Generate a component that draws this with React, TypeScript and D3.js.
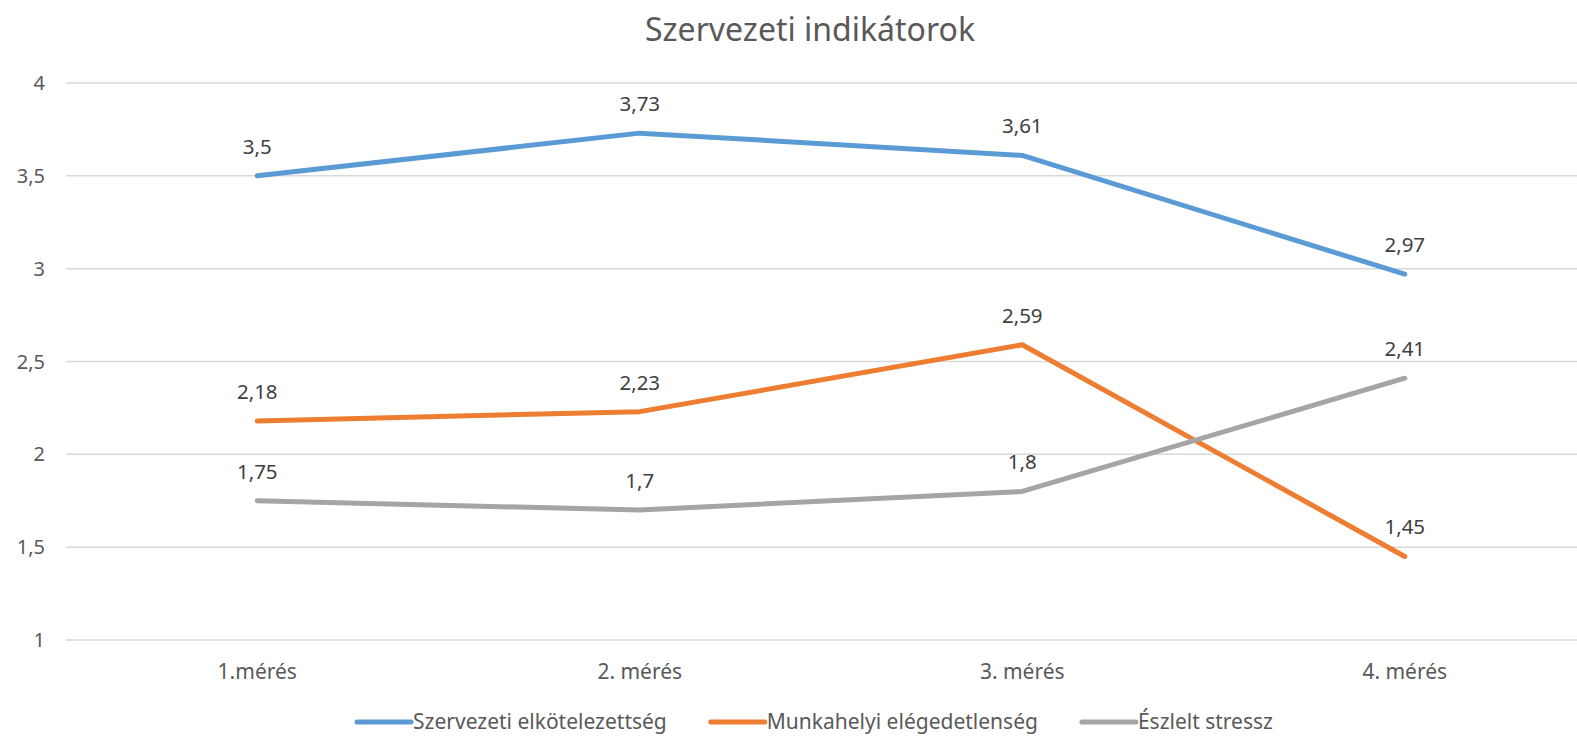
import { useEffect, useRef } from 'react';
import * as d3 from 'd3';

const categories = ['1.mérés', '2. mérés', '3. mérés', '4. mérés'];
const seriesNames = ['Szervezeti elkötelezettség', 'Munkahelyi elégedetlenség', 'Észlelt stressz'];
const commitment = [3.5, 3.73, 3.61, 2.97];
const dissatisfaction = [2.18, 2.23, 2.59, 1.45];
const stress = [1.75, 1.7, 1.8, 2.41];
const yTicks = [1, 1.5, 2, 2.5, 3, 3.5, 4];
const colors = ['#5B9BD5', '#ED7D31', '#A5A5A5'];

const W = 1577;
const H = 736;
const font = "'Noto Sans', 'Open Sans', sans-serif";
const fmt = (v: number) => String(v).replace('.', ',');

const App = () => {
  const svgRef = useRef<SVGSVGElement>(null);

  useEffect(() => {
    const svg = d3.select(svgRef.current);
    svg.selectAll('*').remove();

    const plot = { left: 66, right: 1596, top: 83, bottom: 640 };

    const x = d3.scaleBand().domain(categories).range([plot.left, plot.right]);
    const cx = (c: string) => (x(c) || 0) + x.bandwidth() / 2;
    const y = d3.scaleLinear().domain([1, 4]).range([plot.bottom, plot.top]);

    svg.append('rect').attr('width', W).attr('height', H).attr('fill', '#fff');

    svg.append('text')
      .attr('x', 810)
      .attr('y', 41)
      .attr('text-anchor', 'middle')
      .style('font-family', font)
      .style('font-size', '32px')
      .attr('fill', '#595959')
      .text('Szervezeti indikátorok');

    // gridlines + y labels
    const grid = svg.append('g');
    grid.selectAll('line')
      .data(yTicks)
      .join('line')
      .attr('x1', plot.left)
      .attr('x2', plot.right)
      .attr('y1', d => y(d))
      .attr('y2', d => y(d))
      .attr('stroke', '#D9D9D9')
      .attr('stroke-width', 1.5);

    grid.selectAll('text')
      .data(yTicks)
      .join('text')
      .attr('x', 45)
      .attr('y', d => y(d))
      .attr('dy', '0.35em')
      .attr('text-anchor', 'end')
      .style('font-family', font)
      .style('font-size', '20px')
      .attr('fill', '#595959')
      .text(d => fmt(d));

    svg.append('g')
      .selectAll('text')
      .data(categories)
      .join('text')
      .attr('x', d => cx(d))
      .attr('y', 679)
      .attr('text-anchor', 'middle')
      .style('font-family', font)
      .style('font-size', '21px')
      .attr('fill', '#595959')
      .text(d => d);

    const allSeries = [commitment, dissatisfaction, stress];
    const line = d3.line<number>()
      .x((_, i) => cx(categories[i]))
      .y(d => y(d));

    allSeries.forEach((vals, si) => {
      svg.append('path')
        .datum(vals)
        .attr('d', line)
        .attr('fill', 'none')
        .attr('stroke', colors[si])
        .attr('stroke-width', 5)
        .attr('stroke-linecap', 'round')
        .attr('stroke-linejoin', 'round');
    });

    allSeries.forEach(vals => {
      svg.append('g')
        .selectAll('text')
        .data(vals)
        .join('text')
        .attr('x', (_, i) => cx(categories[i]))
        .attr('y', d => y(d) - 22)
        .attr('text-anchor', 'middle')
        .style('font-family', font)
        .style('font-size', '20.5px')
        .attr('fill', '#404040')
        .text(d => fmt(d));
    });

    // legend, laid out from measured text widths
    const legend = svg.append('g');
    const swatch = 54;
    const gapText = 2;
    const gapItem = 44;
    let pos = 0;
    seriesNames.forEach((name, i) => {
      const item = legend.append('g').attr('transform', `translate(${pos},0)`);
      item.append('line')
        .attr('x1', 0)
        .attr('x2', swatch)
        .attr('y1', 0)
        .attr('y2', 0)
        .attr('stroke', colors[i])
        .attr('stroke-width', 5)
        .attr('stroke-linecap', 'round');
      const t = item.append('text')
        .attr('x', swatch + gapText)
        .attr('y', 0)
        .attr('dy', '0.35em')
        .style('font-family', font)
        .style('font-size', '21px')
        .attr('fill', '#595959')
        .text(name);
      const w = (t.node() as SVGTextElement).getComputedTextLength();
      pos += swatch + gapText + w + gapItem;
    });
    const total = pos - gapItem;
    legend.attr('transform', `translate(${815 - total / 2},722)`);
  }, []);

  return (
    <svg
      ref={svgRef}
      width={W}
      height={H}
      style={{ position: 'absolute', left: 0, top: 0, display: 'block' }}
    />
  );
};

export default App;
